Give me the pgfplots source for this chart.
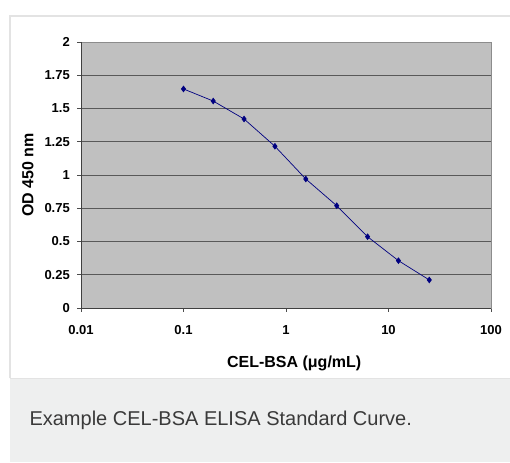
\documentclass[border=0pt]{standalone}
\usepackage{pgfplots}
\pgfplotsset{compat=1.18}
\usepackage{fontspec}
\setmainfont{Liberation Sans}
\definecolor{plotbg}{HTML}{C0C0C0}
\definecolor{navyc}{HTML}{000080}
\definecolor{capbg}{HTML}{EEEFEF}
\definecolor{framec}{HTML}{E3E3E3}
\definecolor{captxt}{HTML}{3A3A3A}
\begin{document}
\begin{tikzpicture}[x=1pt,y=1pt]
\useasboundingbox (-81,-154) rectangle (429,308);
\fill[white] (-81,-154) rectangle (429,308);
\fill[capbg] (-71,-154) rectangle (429,-70);
\draw[framec, line width=1.5pt] (-71,-70) -- (-71,292) -- (429,292);
\draw[framec, line width=1pt] (-71,-70) -- (429,-70);
\node[anchor=west, text=captxt, font=\fontsize{20}{24}\selectfont] at (-55,-112) {Example CEL-BSA ELISA Standard Curve.};
\begin{axis}[
  at={(0,0)}, anchor=south west,
  scale only axis, width=410pt, height=266pt,
  xmode=log, xmin=0.01, xmax=100, ymin=0, ymax=2,
  axis background/.style={fill=plotbg},
  axis line style={draw=black!45, line width=0.8pt},
  xtick={0.01,0.1,1,10,100},
  xticklabels={0.01,0.1,1,10,100},
  ytick={0,0.25,0.5,0.75,1,1.25,1.5,1.75,2},
  yticklabels={0,0.25,0.5,0.75,1,1.25,1.5,1.75,2},
  xminorticks=false,
  xtick pos=bottom, ytick pos=left,
  tick align=outside, major tick length=4pt,
  tick style={black!70, line width=0.8pt},
  ymajorgrids, grid style={black!65, line width=0.8pt},
  tick label style={font=\bfseries\fontsize{13}{15}\selectfont},
  xticklabel style={anchor=north, inner sep=0pt, yshift=-13.5pt},
  yticklabel style={anchor=east, inner sep=0pt, xshift=-7pt},
  xlabel={CEL-BSA (μg/mL)},
  ylabel={OD 450 nm},
  label style={font=\bfseries\fontsize{16}{19}\selectfont},
  xlabel style={at={(axis description cs:0.52,0)}, anchor=center, yshift=-55pt},
  ylabel style={at={(axis description cs:-0.1293,0.5)}, anchor=center, rotate=0},
  clip=false,
]
\addplot[navyc, line width=0.7pt, mark=diamond*, mark size=2.8pt, mark options={fill=navyc}]
  coordinates {
  (0.1,1.647) (0.195,1.556) (0.39,1.421) (0.78,1.216) (1.56,0.970)
  (3.125,0.769) (6.25,0.536) (12.5,0.356) (25,0.211)
  };
\draw[black!75, line width=0.8pt] (rel axis cs:0,1) -- (rel axis cs:0,0) -- (rel axis cs:1,0);
\end{axis}
\end{tikzpicture}
\end{document}
